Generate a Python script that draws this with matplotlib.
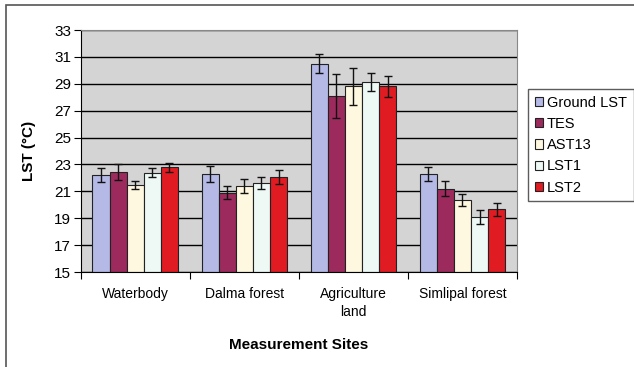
import matplotlib.pyplot as plt
import numpy as np

plt.rcParams['font.family'] = ['Liberation Sans', 'DejaVu Sans']

sites = ['Waterbody', 'Dalma forest', 'Agriculture\nland', 'Simlipal forest']
series = ['Ground LST', 'TES', 'AST13', 'LST1', 'LST2']
colors = ['#b4b9e6', '#9c2a5c', '#fff8e0', '#eef9f6', '#e01b22']

ground = [22.2, 22.3, 30.5, 22.3]
tes = [22.45, 20.9, 28.1, 21.2]
ast13 = [21.45, 21.4, 28.8, 20.35]
lst1 = [22.4, 21.65, 29.15, 19.1]
lst2 = [22.8, 22.1, 28.8, 19.65]

ground_err = [0.5, 0.6, 0.7, 0.52]
tes_err = [0.58, 0.47, 1.65, 0.55]
ast13_err = [0.3, 0.53, 1.36, 0.46]
lst1_err = [0.32, 0.45, 0.66, 0.5]
lst2_err = [0.33, 0.52, 0.76, 0.5]

values = [ground, tes, ast13, lst1, lst2]
errors = [ground_err, tes_err, ast13_err, lst1_err, lst2_err]

fig = plt.figure(figsize=(6.34, 3.67), dpi=100)
# outer frame (partly cropped in the original)
fig.add_artist(plt.Rectangle((6 / 634, -0.05), 1.2, 1 - 5 / 367 + 0.05,
                             transform=fig.transFigure, fill=False,
                             edgecolor='#555555', linewidth=1.2))

ax = fig.add_axes([80.7 / 634, 1 - 272 / 367, (517 - 80.7) / 634, (272 - 30) / 367])
ax.set_facecolor('#d4d4d4')

x = np.arange(len(sites))
width = 0.157
for i, (vals, errs) in enumerate(zip(values, errors)):
    pos = x + (i - 2) * width
    ax.bar(pos, np.array(vals) - 15, width, bottom=15, color=colors[i],
           edgecolor='#222222', linewidth=0.8, label=series[i], zorder=2)
    ax.errorbar(pos, vals, yerr=errs, fmt='none', ecolor='#111111',
                elinewidth=1, capsize=3, capthick=1, zorder=3)

ax.set_ylim(15, 33)
ax.set_xlim(-0.5, 3.5)
ax.set_yticks(np.arange(15, 34, 2))
ax.yaxis.grid(True, color='black', linewidth=1)
ax.set_axisbelow(True)
ax.tick_params(axis='y', labelsize=11, length=5, direction='out', pad=2)

ax.set_xticks(np.arange(-0.5, 4, 1))
ax.set_xticklabels([])
ax.set_xticks(x, minor=True)
ax.set_xticklabels(sites, minor=True, fontsize=10, linespacing=1.3)
ax.tick_params(axis='x', which='major', length=5, direction='out')
ax.tick_params(axis='x', which='minor', length=0, pad=11)

for s in ['top', 'right']:
    ax.spines[s].set_color('#888888')
ax.spines['left'].set_color('black')
ax.spines['bottom'].set_color('black')

ax.set_ylabel('LST (°C)', fontsize=11, fontweight='bold', labelpad=13)
ax.set_xlabel('Measurement Sites', fontsize=11, fontweight='bold', labelpad=14)

leg = fig.legend(loc='upper left', bbox_to_anchor=(528 / 634, 1 - 89 / 367),
                 frameon=True, fancybox=False, edgecolor='#333333',
                 fontsize=10.5, handlelength=0.6, handleheight=0.6,
                 handletextpad=0.25, borderpad=0.45, labelspacing=0.5,
                 borderaxespad=0)
leg.get_frame().set_linewidth(1)

fig.savefig('out.png', dpi=100)
